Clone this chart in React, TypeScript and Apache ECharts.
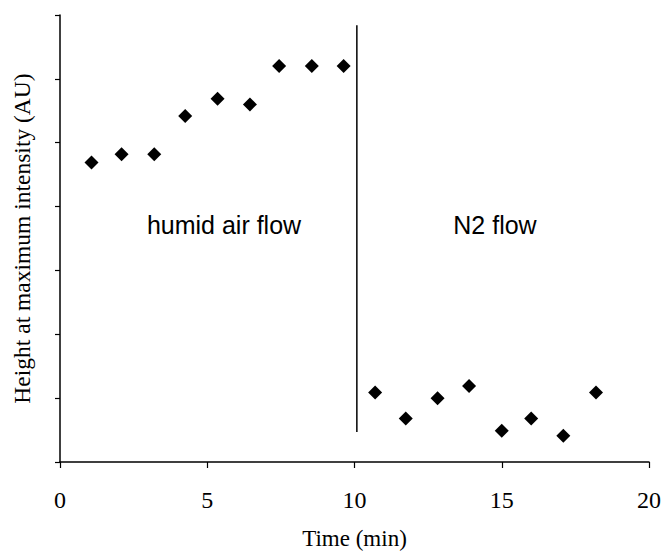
import React, { useEffect, useRef } from "react";
import * as echarts from "echarts";

// Time points (min) and peak height (AU) during humid air flow
const airTime = [1.07, 2.09, 3.2, 4.25, 5.35, 6.45, 7.44, 8.55, 9.63];
const airHeight = [4.69, 4.82, 4.82, 5.42, 5.69, 5.6, 6.2, 6.2, 6.2];

// Time points (min) and peak height (AU) during N2 flow
const n2Time = [10.7, 11.74, 12.82, 13.89, 15.0, 16.0, 17.09, 18.2];
const n2Height = [1.09, 0.68, 1.0, 1.19, 0.49, 0.68, 0.41, 1.09];

// Switch from humid air to N2
const switchTime = 10.08;
const switchSpan = [0.47, 6.84];

const xTicks = { min: 0, max: 20, interval: 5 };
const yTicks = { min: 0, max: 7, interval: 1 };

const regionLabels = ["humid air flow", "N2 flow"];

export default function App() {
  const ref = useRef<HTMLDivElement>(null);

  useEffect(() => {
    if (!ref.current) return;
    const chart = echarts.init(ref.current, null, { renderer: "svg" });
    const serif = "'Liberation Serif', 'Times New Roman', serif";
    const sans = "'Liberation Sans', Arial, sans-serif";
    const points = [
      ...airTime.map((t, i) => [t, airHeight[i]]),
      ...n2Time.map((t, i) => [t, n2Height[i]]),
    ];

    chart.setOption({
      animation: false,
      backgroundColor: "#ffffff",
      grid: { left: 60, right: 17, top: 15, bottom: 94, containLabel: false },
      xAxis: {
        type: "value",
        min: xTicks.min,
        max: xTicks.max,
        interval: xTicks.interval,
        name: "Time (min)",
        nameLocation: "middle",
        nameGap: 65,
        nameTextStyle: { fontFamily: serif, fontSize: 23, color: "#000" },
        axisLine: { show: true, onZero: false, lineStyle: { color: "#000", width: 1.5 } },
        axisTick: { show: true, inside: false, length: 6, lineStyle: { color: "#000", width: 1.2 } },
        axisLabel: { fontFamily: serif, fontSize: 24, color: "#000", margin: 26 },
        splitLine: { show: false },
      },
      yAxis: {
        type: "value",
        min: yTicks.min,
        max: yTicks.max,
        interval: yTicks.interval,
        name: "Height at maximum intensity (AU)",
        nameLocation: "middle",
        nameGap: 26,
        nameTextStyle: { fontFamily: serif, fontSize: 23.5, color: "#000" },
        axisLine: { show: true, onZero: false, lineStyle: { color: "#000", width: 1.5 } },
        axisTick: { show: true, inside: false, length: 5, lineStyle: { color: "#000", width: 1.2 } },
        axisLabel: { show: false },
        splitLine: { show: false },
      },
      series: [
        {
          type: "scatter",
          data: points,
          symbol: "diamond",
          symbolSize: 14,
          itemStyle: { color: "#000", opacity: 1 },
        },
        {
          type: "line",
          data: [
            [switchTime, switchSpan[0]],
            [switchTime, switchSpan[1]],
          ],
          symbol: "none",
          lineStyle: { color: "#000", width: 1.5 },
        },
      ],
      graphic: [
        {
          type: "text",
          x: 224,
          y: 225,
          style: {
            text: regionLabels[0],
            font: `25px ${sans}`,
            fill: "#000",
            align: "center",
            verticalAlign: "middle",
          },
        },
        {
          type: "text",
          x: 495,
          y: 225,
          style: {
            text: regionLabels[1],
            font: `25px ${sans}`,
            fill: "#000",
            align: "center",
            verticalAlign: "middle",
          },
        },
      ],
    });

    return () => chart.dispose();
  }, []);

  return (
    <div
      ref={ref}
      style={{ position: "absolute", left: 0, top: 0, width: 666, height: 556 }}
    />
  );
}
